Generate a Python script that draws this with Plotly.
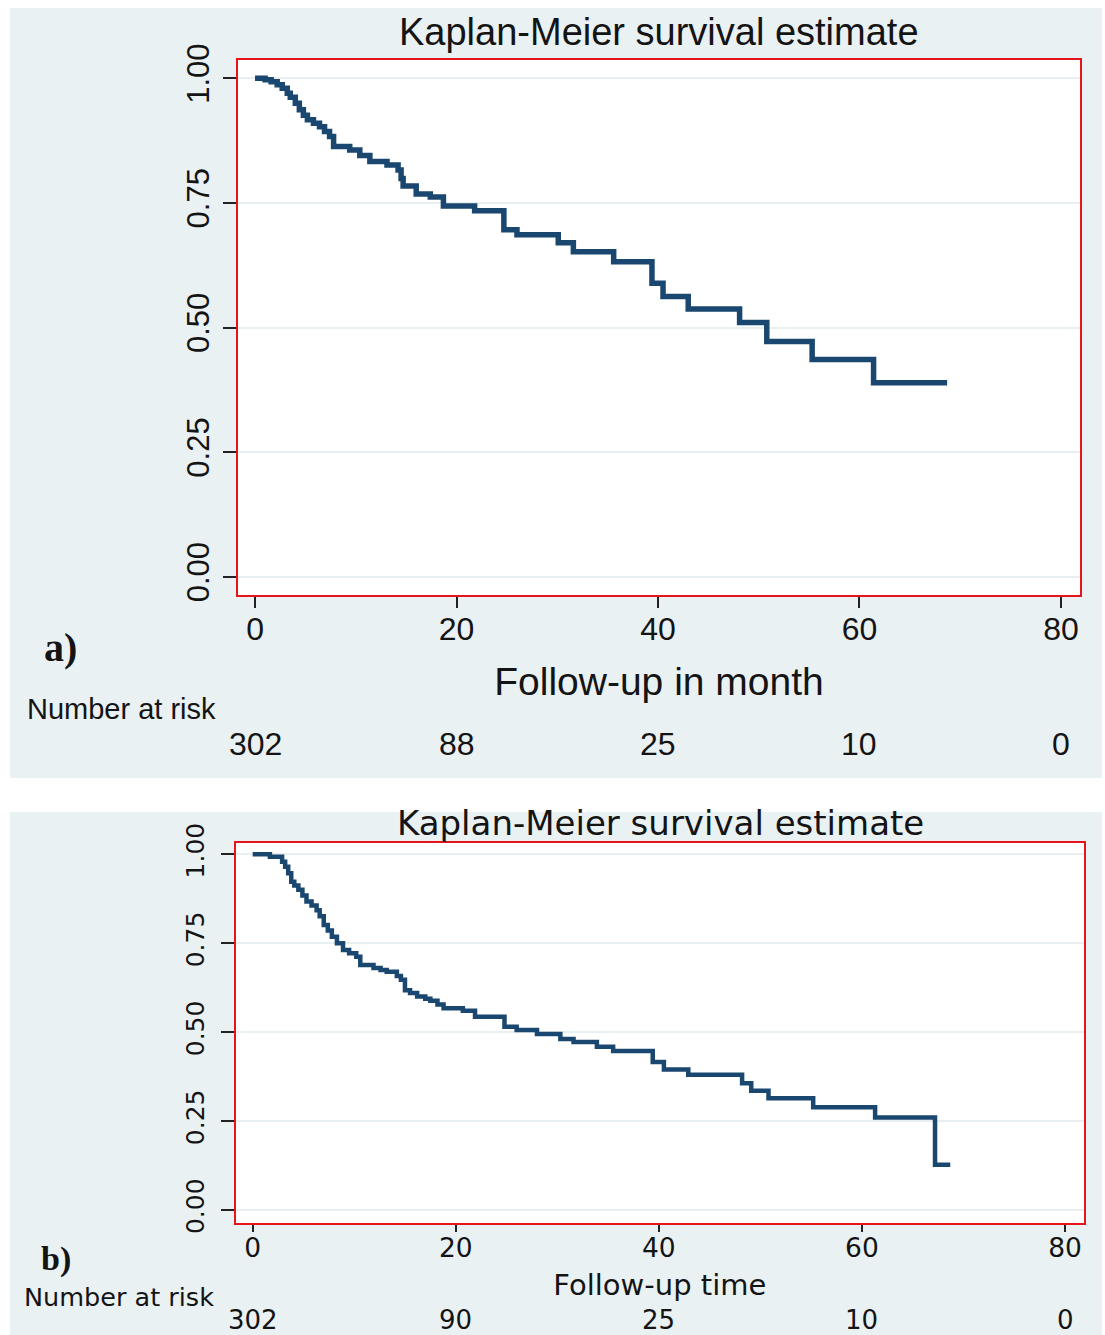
import plotly.graph_objects as go

# ---------------- data ----------------
# Panel a: Kaplan-Meier step curve (time in months, survival)
time_a = [0, 1.0, 1.6, 2.2, 2.7, 3.2, 3.5, 4.0, 4.4, 4.8, 5.2, 5.8, 6.4, 6.9, 7.4, 7.8,
          9.4, 10.4, 11.4, 13.1, 14.2, 14.5, 14.7, 16.0, 17.4, 18.7, 21.8, 24.7, 26.0,
          30.1, 31.6, 35.6, 39.4, 40.5, 43.0, 48.1, 50.8, 55.3, 61.4, 68.7]
surv_a = [1.0, 0.997, 0.993, 0.987, 0.980, 0.970, 0.962, 0.950, 0.937, 0.926, 0.917, 0.910,
          0.903, 0.893, 0.883, 0.863, 0.856, 0.845, 0.833, 0.826, 0.816, 0.799, 0.784,
          0.768, 0.762, 0.744, 0.734, 0.696, 0.686, 0.670, 0.652, 0.632, 0.589, 0.562,
          0.537, 0.510, 0.472, 0.436, 0.389, 0.389]

# Panel b
time_b = [0, 1.7, 2.9, 3.2, 3.5, 3.8, 4.1, 4.5, 4.9, 5.3, 5.8, 6.3, 6.6, 7.0, 7.4, 7.8,
          8.3, 8.9, 9.5, 10.2, 10.6, 11.9, 12.6, 13.2, 14.2, 14.6, 15.0, 15.5, 16.2,
          17.0, 17.5, 18.2, 18.8, 20.7, 21.9, 24.8, 26.0, 28.0, 30.3, 31.6, 33.9,
          35.5, 39.4, 40.5, 42.9, 48.2, 49.1, 50.8, 55.2, 61.3, 67.2, 68.7]
surv_b = [1.0, 0.993, 0.979, 0.965, 0.947, 0.923, 0.912, 0.900, 0.884, 0.867, 0.856,
          0.843, 0.826, 0.801, 0.786, 0.768, 0.750, 0.731, 0.722, 0.712, 0.689, 0.680,
          0.675, 0.670, 0.658, 0.647, 0.618, 0.610, 0.600, 0.594, 0.588, 0.578, 0.567,
          0.560, 0.543, 0.515, 0.506, 0.495, 0.481, 0.472, 0.459, 0.447, 0.416, 0.395,
          0.380, 0.356, 0.335, 0.314, 0.289, 0.260, 0.127, 0.127]

x_ticks = [0, 20, 40, 60, 80]
y_ticks = [0, 0.25, 0.5, 0.75, 1.0]
y_ticktext = ["0.00", "0.25", "0.50", "0.75", "1.00"]
risk_a = ["302", "88", "25", "10", "0"]
risk_b = ["302", "90", "25", "10", "0"]

TITLE = "Kaplan-Meier survival estimate"
XTITLE_A = "Follow-up in month"
XTITLE_B = "Follow-up time"
RISK_LABEL = "Number at risk"

# ---------------- style ----------------
W, H = 1105, 1335
BG = "#eaf1f3"
LINE = "#1a476f"
GRID = "#e8eff2"
FRAME = "#e8141c"
TXT = "#141414"
FA = "Liberation Sans, Arial, sans-serif"
FB = "DejaVu Sans, sans-serif"
FS = "Liberation Serif, Times New Roman, serif"


def py(px):
    return 1 - px / H


fig = go.Figure()
fig.add_trace(go.Scatter(x=time_a, y=surv_a, mode="lines", line=dict(shape="hv", color=LINE, width=5.5),
                         xaxis="x", yaxis="y", showlegend=False, hoverinfo="x+y"))
fig.add_trace(go.Scatter(x=time_b, y=surv_b, mode="lines", line=dict(shape="hv", color=LINE, width=4.5),
                         xaxis="x2", yaxis="y2", showlegend=False, hoverinfo="x+y"))

common_x = dict(tickvals=x_ticks, ticks="outside", tickwidth=1.5, tickcolor="#222",
                showline=True, linecolor=FRAME, linewidth=1.5, mirror=True, automargin=False,
                showgrid=False, zeroline=False, fixedrange=True)
common_y = dict(tickvals=y_ticks, ticktext=y_ticktext, ticks="outside", tickwidth=1.5,
                tickcolor="#222", tickangle=-90, showline=True, linecolor=FRAME, linewidth=1.5,
                mirror=True, showgrid=True, gridcolor=GRID, gridwidth=1.5, zeroline=False,
                fixedrange=True, ticklen=13, automargin=False)

fig.update_layout(
    template="none",
    width=W, height=H, margin=dict(l=0, r=0, t=0, b=0, pad=0, autoexpand=False),
    paper_bgcolor="white", plot_bgcolor="white", showlegend=False,
    xaxis=dict(domain=[238 / W, 1080 / W], range=[-1.69, 81.89], anchor="y",
               ticklen=11, ticklabelstandoff=-6,
               tickfont=dict(family=FA, size=32, color=TXT),
               title=dict(text=XTITLE_A, font=dict(family=FA, size=39, color=TXT), standoff=22),
               **common_x),
    yaxis=dict(domain=[py(595), py(60)], range=[-0.0367, 1.0367], anchor="x",
               ticklabelstandoff=2, tickfont=dict(family=FA, size=31, color=TXT), **common_y),
    xaxis2=dict(domain=[235.7 / W, 1084 / W], range=[-1.67, 81.87], anchor="y2",
                ticklen=7, ticklabelstandoff=-7,
                tickfont=dict(family=FB, size=26.5, color=TXT),
                title=dict(text=XTITLE_B, font=dict(family=FB, size=29, color=TXT), standoff=13),
                **common_x),
    yaxis2=dict(domain=[py(1223.3), py(842.7)], range=[-0.0374, 1.0326], anchor="x2",
                ticklabelstandoff=7, tickfont=dict(family=FB, size=25, color=TXT), **common_y),
)

# panel backgrounds
fig.add_shape(type="rect", xref="paper", yref="paper", x0=10 / W, x1=1102 / W,
              y0=py(778), y1=py(8), fillcolor=BG, line_width=0, layer="below")
fig.add_shape(type="rect", xref="paper", yref="paper", x0=10 / W, x1=1102 / W,
              y0=py(1335), y1=py(812), fillcolor=BG, line_width=0, layer="below")
fig.add_shape(type="rect", xref="x domain", yref="y domain", x0=0, x1=1, y0=0, y1=1,
              fillcolor="white", line_width=0, layer="below")
fig.add_shape(type="rect", xref="x2 domain", yref="y2 domain", x0=0, x1=1, y0=0, y1=1,
              fillcolor="white", line_width=0, layer="below")

ann = []
# titles
ann.append(dict(text=TITLE, x=659 / W, y=py(32), xref="paper", yref="paper",
                showarrow=False, xanchor="center", yanchor="middle",
                font=dict(family=FA, size=38, color=TXT)))
ann.append(dict(text=TITLE, x=660 / W, y=py(823), xref="paper", yref="paper",
                showarrow=False, xanchor="center", yanchor="middle",
                font=dict(family=FB, size=34, color=TXT)))
# panel letters
ann.append(dict(text="<b>a)</b>", x=42 / W, y=py(647), xref="paper", yref="paper",
                showarrow=False, xanchor="left", yanchor="middle",
                font=dict(family=FS, size=40, color=TXT)))
ann.append(dict(text="<b>b)</b>", x=39 / W, y=py(1259), xref="paper", yref="paper",
                showarrow=False, xanchor="left", yanchor="middle",
                font=dict(family=FS, size=34, color=TXT)))
# number at risk labels
ann.append(dict(text=RISK_LABEL, x=25 / W, y=py(709), xref="paper", yref="paper",
                showarrow=False, xanchor="left", yanchor="middle",
                font=dict(family=FA, size=29, color=TXT)))
ann.append(dict(text=RISK_LABEL, x=22 / W, y=py(1297), xref="paper", yref="paper",
                showarrow=False, xanchor="left", yanchor="middle",
                font=dict(family=FB, size=25.5, color=TXT)))
for t, r in zip(x_ticks, risk_a):
    ann.append(dict(text=r, x=t, y=py(744), xref="x", yref="paper", showarrow=False,
                    xanchor="center", yanchor="middle", font=dict(family=FA, size=32, color=TXT)))
for t, r in zip(x_ticks, risk_b):
    ann.append(dict(text=r, x=t, y=py(1320), xref="x2", yref="paper", showarrow=False,
                    xanchor="center", yanchor="middle", font=dict(family=FB, size=26, color=TXT)))
fig.update_layout(annotations=ann)

fig.write_html(
    "out.html",
    config={"displayModeBar": False, "staticPlot": False},
    post_script="document.body.style.margin='0';document.body.style.padding='0';"
                "document.documentElement.style.overflow='hidden';",
)
